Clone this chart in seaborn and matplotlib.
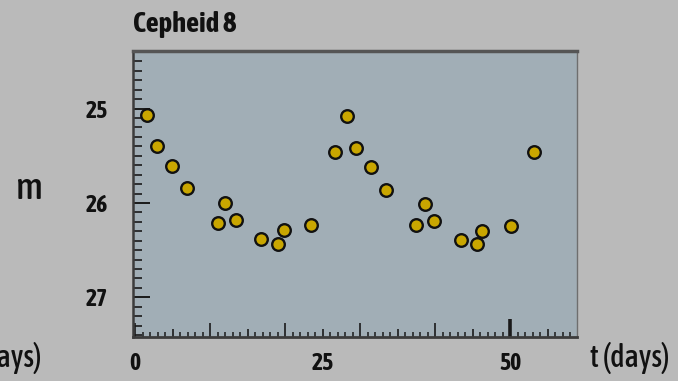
import matplotlib
matplotlib.use("Agg")
import matplotlib.pyplot as plt
import matplotlib.ticker as mticker
import seaborn as sns
import pandas as pd

# ---- data ----
days = [1.6, 2.9, 4.9, 6.9, 11.05, 12.0, 13.5, 16.8, 19.1, 19.8, 23.5,
        26.7, 28.2, 29.4, 31.4, 33.4, 37.5, 38.6, 39.9, 43.5, 45.6, 46.3,
        50.1, 53.2]
mag = [25.07, 25.40, 25.61, 25.84, 26.21, 26.00, 26.18, 26.38, 26.43, 26.29,
       26.23, 25.46, 25.08, 25.42, 25.62, 25.86, 26.23, 26.01, 26.19, 26.39,
       26.43, 26.30, 26.24, 25.46]
y_ticks = [25, 26, 27]
x_labels = [0, 25, 50]
title = "Cepheid 8"

df = pd.DataFrame({"t": days, "m": mag})

sns.set_theme(style="ticks")
plt.rcParams["font.family"] = ["Asap Condensed", "DejaVu Sans"]

FIG_BG = "#bababa"
AX_BG = "#a1aeb6"
DARK = "#1a1a1a"
TXT = "#111111"

fig = plt.figure(figsize=(6.78, 3.81), dpi=100, facecolor=FIG_BG)
ax = fig.add_axes([133 / 678, 1 - 337 / 381, (577 - 133) / 678, (337 - 51) / 381])
ax.set_facecolor(AX_BG)

sns.scatterplot(data=df, x="t", y="m", ax=ax, s=82, color="#c9a600",
                edgecolor="#111111", linewidth=1.7, zorder=3, legend=False)

ax.set_xlim(-0.27, 58.9)
ax.set_ylim(27.42, 24.39)

# spines
for side in ["top", "left", "bottom"]:
    ax.spines[side].set_color("#3c3c3c")
ax.spines["top"].set_linewidth(2.5)
ax.spines["top"].set_color("#555555")
ax.spines["left"].set_linewidth(1.8)
ax.spines["bottom"].set_linewidth(2.0)
ax.spines["right"].set_linewidth(1.0)
ax.spines["right"].set_color("#6e6e6e")

# y ticks
ax.yaxis.set_major_locator(mticker.FixedLocator(y_ticks))
ax.yaxis.set_minor_locator(mticker.MultipleLocator(0.1))
ax.tick_params(axis="y", which="major", direction="in", length=12, width=1.4,
               color=DARK, pad=18, labelsize=17, labelcolor=TXT)
ax.tick_params(axis="y", which="minor", direction="in", length=6.5, width=1.2, color=DARK)

# x ticks: every 5 days major (labels only at 0/25/50), every day minor
ax.xaxis.set_major_locator(mticker.MultipleLocator(5))
ax.xaxis.set_minor_locator(mticker.MultipleLocator(1))
ax.xaxis.set_major_formatter(mticker.FuncFormatter(
    lambda v, p: f"{int(round(v))}" if int(round(v)) in x_labels else ""))
ax.tick_params(axis="x", which="major", direction="in", length=5, width=1.2,
               color=DARK, pad=11, labelsize=17, labelcolor=TXT)
ax.tick_params(axis="x", which="minor", direction="in", length=3.5, width=1.1, color=DARK)

ax.set_xlabel("")
ax.set_ylabel("")

fig.canvas.draw()
for tk in ax.xaxis.get_major_ticks():
    v = int(round(tk.get_loc()))
    if v == 50:
        tk.tick1line.set_markersize(13)
        tk.tick1line.set_markeredgewidth(2.6)
    elif v % 10 == 0:
        tk.tick1line.set_markersize(10)
    else:
        tk.tick1line.set_markersize(5.5)
for lab in ax.get_xticklabels() + ax.get_yticklabels():
    lab.set_fontweight("bold")

fig.text(133 / 678, 1 - 24 / 381, title, fontsize=20.5, fontweight="bold",
         color=TXT, ha="left", va="center")
fig.text(29 / 678, 1 - 189 / 381, "m", fontsize=27, fontweight="medium",
         color=TXT, ha="center", va="center")
fig.text(630 / 678, 1 - 358 / 381, "t (days)", fontsize=22, fontweight="medium",
         color=TXT, ha="center", va="center")
fig.text(41 / 678, 1 - 358 / 381, "t (days)", fontsize=22, fontweight="medium",
         color=TXT, ha="right", va="center")

fig.savefig("out.png", dpi=100, facecolor=FIG_BG)
